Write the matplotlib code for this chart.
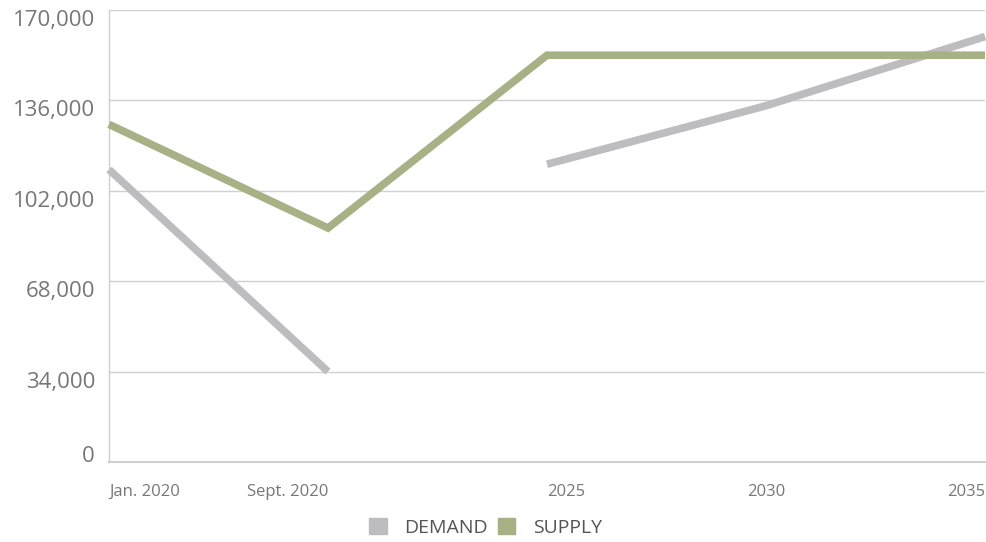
import matplotlib.pyplot as plt
from matplotlib.patches import Patch
import numpy as np

categories = ["Jan. 2020", "Sept. 2020", "2025", "2030", "2035"]
supply = [127000, 88000, 153000, 153000, 153000]
# demand is drawn in two pieces (break between Sept. 2020 and 2025)
demand_early = [110000, 34000]
demand_late = [112000, 134000, 160000]
y_ticks = [0, 34000, 68000, 102000, 136000, 170000]

plt.rcParams['font.family'] = ['Open Sans', 'DejaVu Sans']

c_demand = "#bdbdbf"
c_supply = "#a8b086"

fig = plt.figure(figsize=(9.87, 5.42), dpi=100)
ax = fig.add_axes([0.1104, 0.1476, 0.8876, 0.8339])

x = np.arange(len(categories))
lw = 5.5
ax.plot(x[:2], demand_early, color=c_demand, linewidth=lw, solid_capstyle='butt', clip_on=False, zorder=3)
ax.plot(x[2:], demand_late, color=c_demand, linewidth=lw, solid_capstyle='butt', clip_on=False, zorder=3)
ax.plot(x, supply, color=c_supply, linewidth=lw, solid_capstyle='butt', solid_joinstyle='miter', clip_on=False, zorder=4)

ax.set_xlim(0, len(categories) - 1)
ax.set_ylim(0, 170000)
ax.set_yticks(y_ticks)
ax.set_yticklabels([f"{v:,}" for v in y_ticks], fontsize=16, color="#777777")
# labels hang below their gridline, except the bottom one which sits on it
for lbl, v in zip(ax.get_yticklabels(), y_ticks):
    lbl.set_verticalalignment('baseline' if v == 0 else 'top')
ax.set_xticks(x)
ax.set_xticklabels(categories, fontsize=12, color="#777777")
aligns = ['left', 'right', 'left', 'center', 'right']
for lbl, ha in zip(ax.get_xticklabels(), aligns):
    lbl.set_horizontalalignment(ha)
ax.tick_params(axis='both', length=0)
ax.tick_params(axis='y', pad=10)
ax.tick_params(axis='x', pad=16)

ax.grid(axis='y', color="#d0d0d0", linewidth=1)
ax.axhline(0, color="#d0d0d0", linewidth=1.5, clip_on=False, zorder=1)
ax.set_axisbelow(True)
for s in ['top', 'right', 'bottom']:
    ax.spines[s].set_visible(False)
ax.spines['left'].set_color("#d0d0d0")
ax.spines['left'].set_linewidth(1)

handles = [Patch(color=c_demand, label="DEMAND"), Patch(color=c_supply, label="SUPPLY")]
leg = ax.legend(handles=handles, loc='center', bbox_to_anchor=(0.43, -0.145), ncol=2,
                frameon=False, fontsize=14, handlelength=0.9, handleheight=0.9,
                columnspacing=0.5, handletextpad=0.9)
for t in leg.get_texts():
    t.set_color("#555555")

fig.savefig("out.png", dpi=100)
